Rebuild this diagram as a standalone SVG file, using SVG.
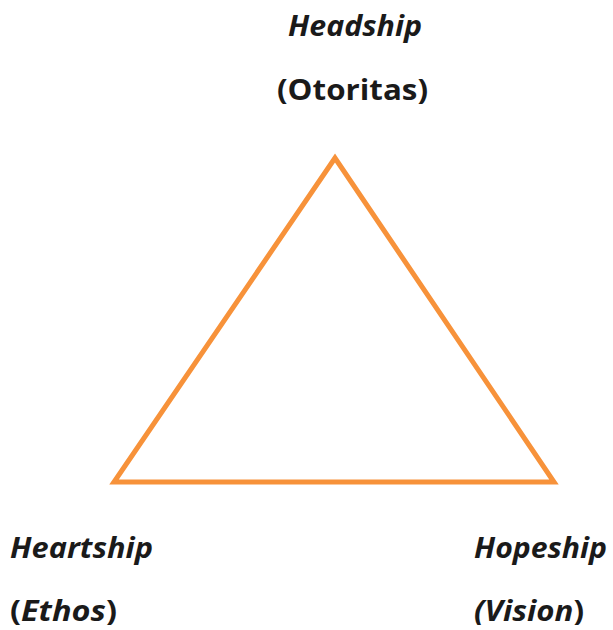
<svg xmlns="http://www.w3.org/2000/svg" width="613" height="630" viewBox="0 0 613 630">
<style>
.t{font-family:"Open Sans","Liberation Sans",sans-serif;font-weight:bold;font-size:29px;fill:#1a1a1a}
.i{font-style:italic}
.tri{fill:none;stroke:#F7923A;stroke-width:5;stroke-linejoin:miter}
</style>
<rect width="613" height="630" fill="#ffffff"/>
<g id="connectors">
<polygon class="tri" points="335,158 114,482 554,482"/>
</g>
<g id="headship">
<text class="t i" x="288" y="36" textLength="134" lengthAdjust="spacingAndGlyphs">Headship</text>
<text class="t" x="277" y="100" textLength="151" lengthAdjust="spacingAndGlyphs">(Otoritas)</text>
</g>
<g id="heartship">
<text class="t i" x="10" y="558" textLength="143" lengthAdjust="spacingAndGlyphs">Heartship</text>
<text class="t" x="10" y="621" textLength="107" lengthAdjust="spacingAndGlyphs">(<tspan class="i">Ethos</tspan>)</text>
</g>
<g id="hopeship">
<text class="t i" x="474" y="558" textLength="133" lengthAdjust="spacingAndGlyphs">Hopeship</text>
<text class="t" x="474" y="621" textLength="110" lengthAdjust="spacingAndGlyphs"><tspan class="i">(Vision</tspan>)</text>
</g>
</svg>
